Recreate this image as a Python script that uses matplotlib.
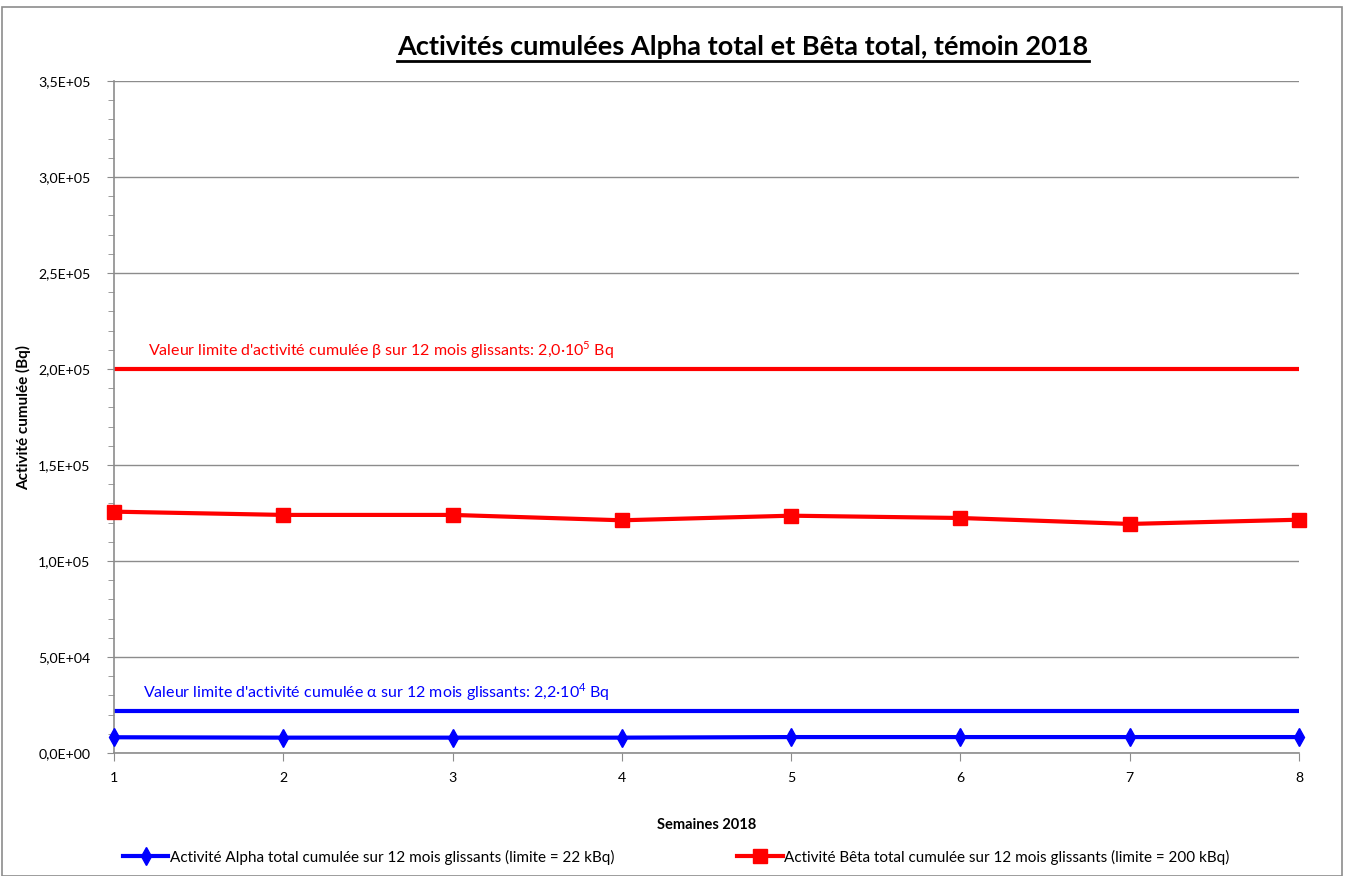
import matplotlib
matplotlib.use("Agg")
import matplotlib.pyplot as plt
from matplotlib.ticker import FuncFormatter, MultipleLocator
from matplotlib.lines import Line2D
from matplotlib.patches import Rectangle

plt.rcParams['font.family'] = ['Lato', 'DejaVu Sans']
plt.rcParams['mathtext.fontset'] = 'custom'
plt.rcParams['mathtext.rm'] = 'Lato'

# Data
semaines = [1, 2, 3, 4, 5, 6, 7, 8]
alpha = [8.2e3, 8.0e3, 8.0e3, 8.0e3, 8.3e3, 8.3e3, 8.3e3, 8.3e3]
beta = [1.257e5, 1.240e5, 1.240e5, 1.212e5, 1.236e5, 1.224e5, 1.193e5, 1.215e5]
limite_alpha = 2.2e4
limite_beta = 2.0e5

fig = plt.figure(figsize=(13.46, 8.76), dpi=100)
ax = fig.add_axes([114 / 1346, 1 - 753 / 876, (1299 - 114) / 1346, (753 - 81) / 876])

# outer chart border
fig.patches.append(Rectangle((2 / 1346, 0), 1340 / 1346, 1 - 7 / 876, transform=fig.transFigure,
                             fill=False, edgecolor='#8c8c8c', linewidth=1.2))

ax.axhline(limite_beta, color='#ff0000', lw=3)
ax.axhline(limite_alpha, color='#0000ff', lw=3)

ax.plot(semaines, alpha, color='#0000ff', lw=3, marker='d', ms=9, clip_on=False, zorder=5)
ax.plot(semaines, beta, color='#ff0000', lw=3, marker='s', ms=10, clip_on=False, zorder=5)

ax.text(1.2, 2.07e5, "Valeur limite d'activité cumulée β sur 12 mois glissants: 2,0·10$^5$ Bq",
        color='#ff0000', fontsize=11.5)
ax.text(1.17, 2.9e4, "Valeur limite d'activité cumulée α sur 12 mois glissants: 2,2·10$^4$ Bq",
        color='#0000ff', fontsize=11.5)

ax.set_xlim(1, 8)
ax.set_ylim(0, 3.5e5)
ax.yaxis.set_major_locator(MultipleLocator(5e4))
ax.yaxis.set_minor_locator(MultipleLocator(1e4))
ax.xaxis.set_major_locator(MultipleLocator(1))
ax.yaxis.set_major_formatter(FuncFormatter(lambda v, p: ("%.1E" % v).replace('.', ',')))
ax.grid(axis='y', color='#8c8c8c', lw=1)
ax.set_axisbelow(True)
for s in ['top', 'right']:
    ax.spines[s].set_visible(False)
for s in ['left', 'bottom']:
    ax.spines[s].set_color('#8c8c8c')
    ax.spines[s].set_linewidth(1.2)
ax.tick_params(which='both', direction='out', color='#8c8c8c', labelsize=10.2)
ax.tick_params(axis='x', length=6, pad=8)
ax.tick_params(axis='y', which='major', length=5, pad=12)
ax.tick_params(axis='y', which='minor', length=4)

ax.set_xlabel('Semaines 2018', fontsize=10.5, fontweight='bold', labelpad=24)
ax.set_ylabel('Activité cumulée (Bq)', fontsize=11, fontweight='bold', labelpad=5)

title = fig.text(743 / 1346, 1 - 47 / 876, 'Activités cumulées Alpha total et Bêta total, témoin 2018',
                 ha='center', va='center', fontsize=19.5, fontweight='bold')

handles = [Line2D([], [], color='#0000ff', lw=3, marker='d', ms=9),
           Line2D([], [], color='#ff0000', lw=3, marker='s', ms=10)]
fig.legend(handles, ['Activité Alpha total cumulée sur 12 mois glissants (limite = 22 kBq)',
                     'Activité Bêta total cumulée sur 12 mois glissants (limite = 200 kBq)'],
           loc='center', bbox_to_anchor=(676 / 1346, 1 - 857 / 876), ncol=2, frameon=False,
           fontsize=11, handlelength=3, handletextpad=0.1, columnspacing=8)

# underline the title
fig.canvas.draw()
bb = title.get_window_extent().transformed(fig.transFigure.inverted())
fig.add_artist(Line2D([bb.x0, bb.x1], [bb.y0 - 0.002, bb.y0 - 0.002], transform=fig.transFigure,
                      color='black', lw=2))

fig.savefig('out.png', dpi=100)
